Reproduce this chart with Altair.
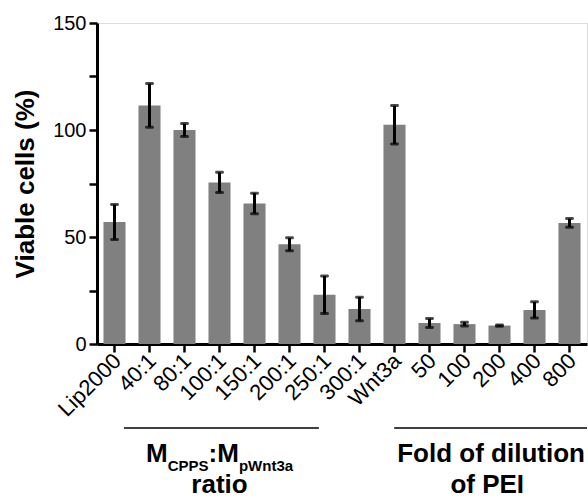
import altair as alt
import pandas as pd

# ---- data ----
categories = ["Lip2000", "40:1", "80:1", "100:1", "150:1", "200:1", "250:1",
              "300:1", "Wnt3a", "50", "100", "200", "400", "800"]
viable = [57.0, 111.5, 100.0, 75.5, 65.7, 46.6, 23.0, 16.4, 102.4, 9.8, 9.3, 8.6, 15.9, 56.6]
errors = [8.2, 10.2, 3.0, 4.7, 4.8, 3.0, 8.8, 5.5, 9.0, 2.1, 0.9, 0.3, 3.8, 2.0]
y_ticks = [0, 12.5, 25, 37.5, 50, 62.5, 75, 87.5, 100, 112.5, 125, 137.5, 150]

# group brackets (in category-index units along x, value units along y)
bracket_start = [0.77, 8.49]
bracket_end = [6.34, 14.0]
bracket_level = [-39.3, -39.3]

FONT = "Liberation Sans, Arial, Helvetica, sans-serif"
W, H = 490, 321
N = len(categories)

df = pd.DataFrame({"cat": categories, "val": viable, "err": errors})

xband = alt.Scale(paddingInner=0.37, paddingOuter=0.185)
ydom = alt.Scale(domain=[0, 150], nice=False, zero=False)
qx = alt.Scale(domain=[0, N], nice=False, zero=False)

base = alt.Chart(df)

bars = base.mark_bar(color="#808080").encode(
    x=alt.X("cat:N", sort=categories, scale=xband, title=None,
            axis=alt.Axis(labelAngle=-45, labelFontSize=22, labelFont=FONT,
                          labelColor="black", labelAlign="right",
                          labelBaseline="middle", labelPadding=5,
                          labelOffset=3, labelOverlap=False,
                          domainColor="black", domainWidth=3,
                          tickColor="black", tickWidth=2.5, tickSize=8)),
    y=alt.Y("val:Q", scale=ydom, title="Viable cells (%)",
            axis=alt.Axis(values=y_ticks,
                          labelExpr="datum.value % 50 == 0 ? datum.label : ''",
                          labelFontSize=20, labelFont=FONT, labelColor="black",
                          labelPadding=3, domainColor="black", domainWidth=3,
                          tickColor="black", tickWidth=2.5, tickSize=8,
                          grid=False, titleFont=FONT, titleFontSize=26,
                          titleFontWeight="bold", titleColor="black",
                          titlePadding=14)),
)

err = base.transform_calculate(lo="datum.val - datum.err", hi="datum.val + datum.err")

err_rule = err.mark_rule(color="black", strokeWidth=3).encode(
    x=alt.X("cat:N", sort=categories, scale=xband),
    y=alt.Y("lo:Q", scale=ydom),
    y2="hi:Q",
)
cap_hi = err.mark_tick(color="black", thickness=3, size=9, cornerRadius=1.5,
                       orient="horizontal").encode(
    x=alt.X("cat:N", sort=categories, scale=xband),
    y=alt.Y("hi:Q", scale=ydom),
)
cap_lo = err.mark_tick(color="black", thickness=3, size=9, cornerRadius=1.5,
                       orient="horizontal").encode(
    x=alt.X("cat:N", sort=categories, scale=xband),
    y=alt.Y("lo:Q", scale=ydom),
)

main = alt.layer(bars, err_rule, cap_hi, cap_lo)

# ---- bracket lines and group labels ----
br = pd.DataFrame({"a": bracket_start, "b": bracket_end, "v": bracket_level})
brackets = alt.Chart(br).mark_rule(color="black", strokeWidth=1.5).encode(
    x=alt.X("a:Q", scale=qx, axis=None),
    x2="b:Q",
    y=alt.Y("v:Q", scale=ydom, axis=None),
)


def label(text, u, v, size, dx=0, align="left"):
    d = pd.DataFrame({"u": [u], "v": [v]})
    return alt.Chart(d).mark_text(
        text=text, font=FONT, fontSize=size, fontWeight="bold", color="black",
        align=align, baseline="alphabetic", dx=dx,
    ).encode(
        x=alt.X("u:Q", scale=qx, axis=None),
        y=alt.Y("v:Q", scale=ydom, axis=None),
    )


left_start = 1.4
txt = [
    label("M", left_start, -55.1, 26, 0),
    label("CPPS", left_start, -59.5, 15, 21.7),
    label(":", left_start, -55.1, 26, 62.5),
    label("M", left_start, -55.1, 26, 71.2),
    label("pWnt3a", left_start, -59.5, 15, 92.9),
    label("ratio", 3.5, -69.7, 26, 0, "center"),
    label("Fold of dilution", 11.26, -55.1, 26, 0, "center"),
    label("of PEI", 11.15, -69.7, 26, 0, "center"),
]

chart = alt.layer(main, brackets, *txt).resolve_scale(
    x="independent", y="independent"
).properties(
    width=W, height=H,
    autosize=alt.AutoSizeParams(type="none"),
    padding={"left": 97, "top": 23, "right": 1, "bottom": 155},
).configure_view(stroke=None).configure(background="white")

chart.save("out.html", embed_options={"renderer": "svg", "actions": False})
